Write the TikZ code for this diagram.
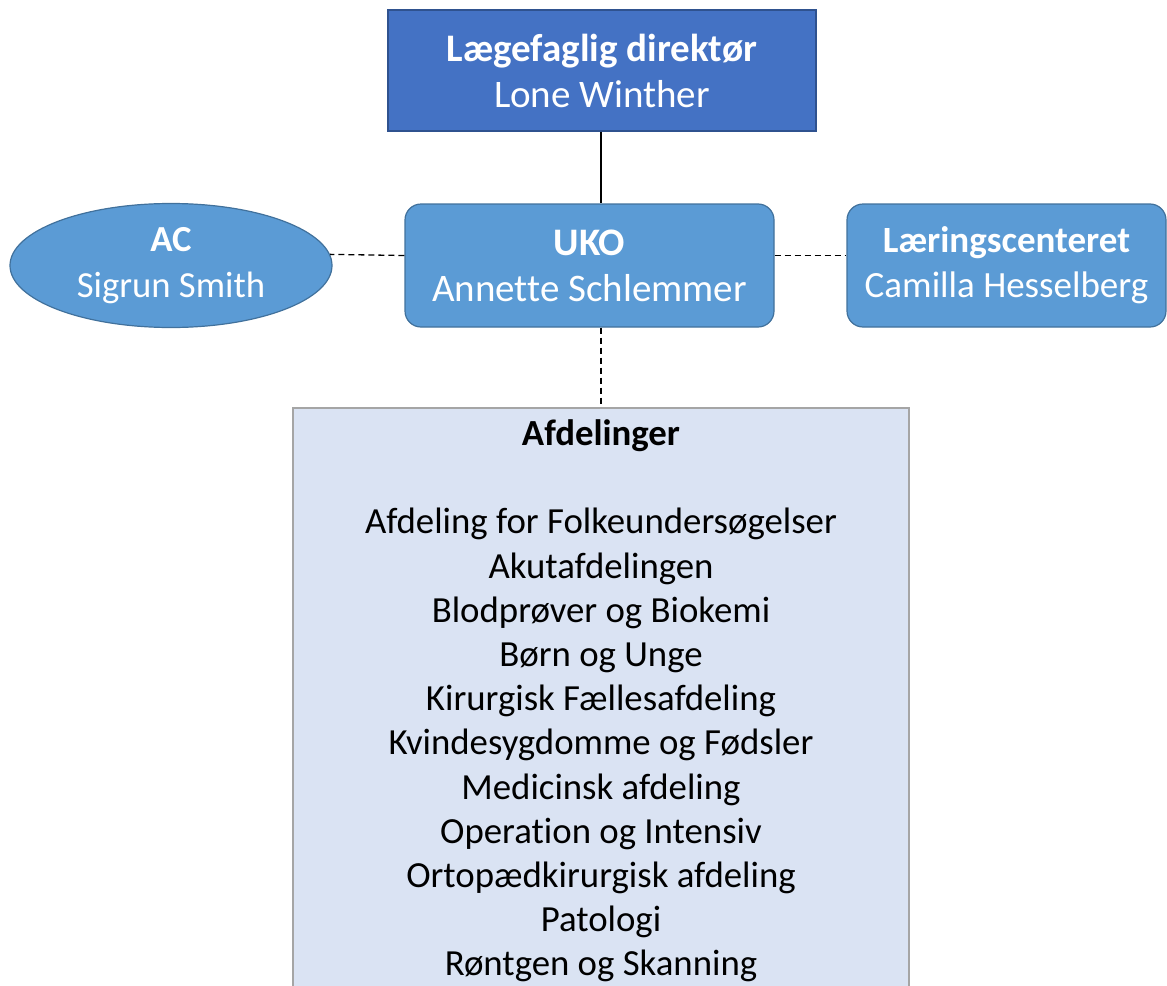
\documentclass[tikz,border=0pt]{standalone}
\usepackage{fontspec}
\setmainfont{Carlito}[Ligatures=NoCommon]
\usepackage{tikz}
\usetikzlibrary{shapes.geometric}
\definecolor{dirblue}{HTML}{4472C4}
\definecolor{dirline}{HTML}{2F528F}
\definecolor{unitblue}{HTML}{5B9BD5}
\definecolor{unitline}{HTML}{41719C}
\definecolor{afdfill}{HTML}{DAE3F3}
\definecolor{afdline}{HTML}{A5A5A5}
\tikzstyle{leader} = [rectangle, draw=dirline, fill=dirblue, line width=1.2pt, text=white, align=center, inner sep=0, font=\fontsize{39}{46}\selectfont]
\tikzstyle{unit} = [rectangle, rounded corners=16pt, draw=unitline, fill=unitblue, line width=1.2pt, text=white, align=center, inner sep=0, font=\fontsize{39}{46}\selectfont]
\tikzstyle{staff} = [ellipse, draw=unitline, fill=unitblue, line width=1.2pt, text=white, align=center, inner sep=0, font=\fontsize{36.7}{45}\selectfont]
\tikzstyle{link} = [-, line width=1.3pt, dash pattern=on 6pt off 4pt]

\begin{document}
\begin{tikzpicture}[x=1pt, y=-1pt]
\clip (0,0) rectangle (1167,985);
\node [leader, minimum width=428, minimum height=121] (dir) at (602, 70.5) {\textbf{Lægefaglig direktør}\\Lone Winther};
\node [unit, minimum width=369, minimum height=123] (uko) at (589.5, 265.5) {\textbf{UKO}\\Annette Schlemmer};
\node [staff, minimum width=322, minimum height=124] (ac) at (171, 265.5) {\textbf{AC}\\[1pt]Sigrun Smith};
\node [unit, minimum width=319, minimum height=123, font=\fontsize{37}{45}\selectfont] (lc) at (1006.5, 265.5) {\textbf{Læringscenteret}\\Camilla Hesselberg};
\node [rectangle, draw=afdline, fill=afdfill, line width=1.2pt, align=center, inner sep=0, minimum width=616, minimum height=586, font=\fontsize{36.8}{44.2}\selectfont] (afd) at (601, 701) {\textbf{Afdelinger}\\[44.2pt]
Afdeling for Folkeundersøgelser\\Akutafdelingen\\Blodprøver og Biokemi\\Børn og Unge\\Kirurgisk Fællesafdeling\\Kvindesygdomme og Fødsler\\Medicinsk afdeling\\Operation og Intensiv\\Ortopædkirurgisk afdeling\\Patologi\\Røntgen og Skanning};
\draw [line width=1.3pt] (dir.south -| afd.north) -- (uko.north -| afd.north);
\draw [link] (uko.south -| afd.north) -- (afd.north);
\draw [link] ([yshift=10pt]uko.west) -- (ac.4);
\draw [link] ([yshift=10pt]uko.east) -- ([yshift=10pt]lc.west);
\end{tikzpicture}
\end{document}
